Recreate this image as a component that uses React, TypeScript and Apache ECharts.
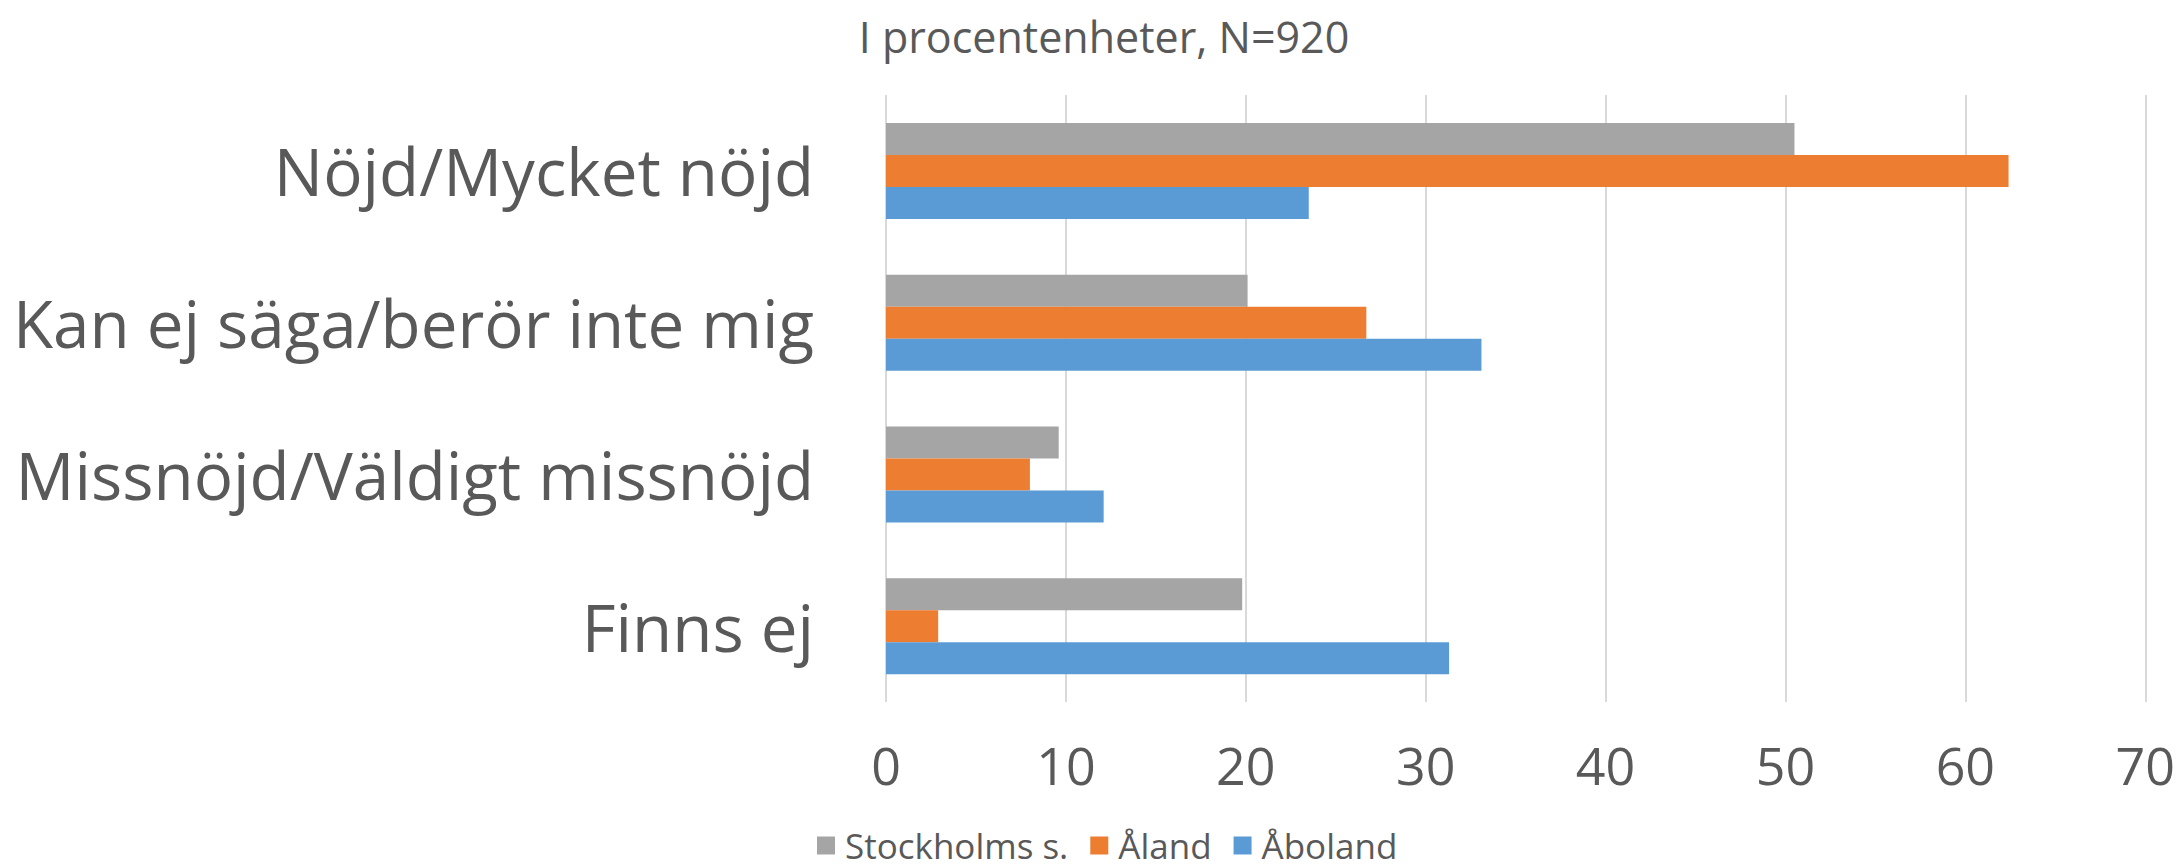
import React, { useEffect, useRef } from "react";
import * as echarts from "echarts";

const categories = [
  "Nöjd/Mycket nöjd",
  "Kan ej säga/berör inte mig",
  "Missnöjd/Väldigt missnöjd",
  "Finns ej",
];
const stockholm = [50.5, 20.1, 9.6, 19.8];
const aland = [62.4, 26.7, 8.0, 2.9];
const aboland = [23.5, 33.1, 12.1, 31.3];
const seriesNames = ["Stockholms s.", "Åland", "Åboland"];
const colors = ["#A5A5A5", "#ED7D31", "#5B9BD5"];
const title = "I procentenheter, N=920";

const FONT = "'Open Sans', 'Noto Sans', sans-serif";
const TEXT = "#595959";

export default function App() {
  const ref = useRef<HTMLDivElement>(null);
  useEffect(() => {
    document.body.style.margin = "0";
    const chart = echarts.init(ref.current!, null, { renderer: "svg" });
    const data = [stockholm, aland, aboland];
    chart.setOption({
      animation: false,
      textStyle: { fontFamily: FONT, color: TEXT },
      title: {
        text: title,
        left: 1099,
        textAlign: "center",
        top: 10,
        textStyle: { fontFamily: FONT, fontSize: 43, fontWeight: "normal", color: TEXT },
      },
      legend: {
        data: seriesNames,
        left: 812,
        top: 823,
        itemWidth: 18,
        itemHeight: 18,
        itemGap: 22,
        icon: "rect",
        textStyle: {
          fontFamily: FONT,
          fontSize: 35,
          color: TEXT,
          padding: [0, 0, 0, 5],
        },
      },
      grid: { left: 886, right: 31, top: 95, height: 607, containLabel: false },
      xAxis: {
        type: "value",
        min: 0,
        max: 70,
        interval: 10,
        axisLine: { show: false },
        axisTick: { show: false },
        splitLine: { show: true, lineStyle: { color: "#D9D9D9", width: 2 } },
        axisLabel: { fontFamily: FONT, fontSize: 52, color: TEXT, margin: 36 },
      },
      yAxis: {
        type: "category",
        data: categories,
        inverse: true,
        axisLine: { show: false },
        axisTick: { show: false },
        axisLabel: { fontFamily: FONT, fontSize: 65.5, color: TEXT, margin: 72 },
      },
      series: seriesNames.map((name, i) => ({
        name,
        type: "bar",
        data: data[i],
        barWidth: 32,
        barGap: "0%",
        itemStyle: { color: colors[i] },
      })),
    });
    return () => chart.dispose();
  }, []);
  return <div ref={ref} style={{ width: 2178, height: 864 }} />;
}
